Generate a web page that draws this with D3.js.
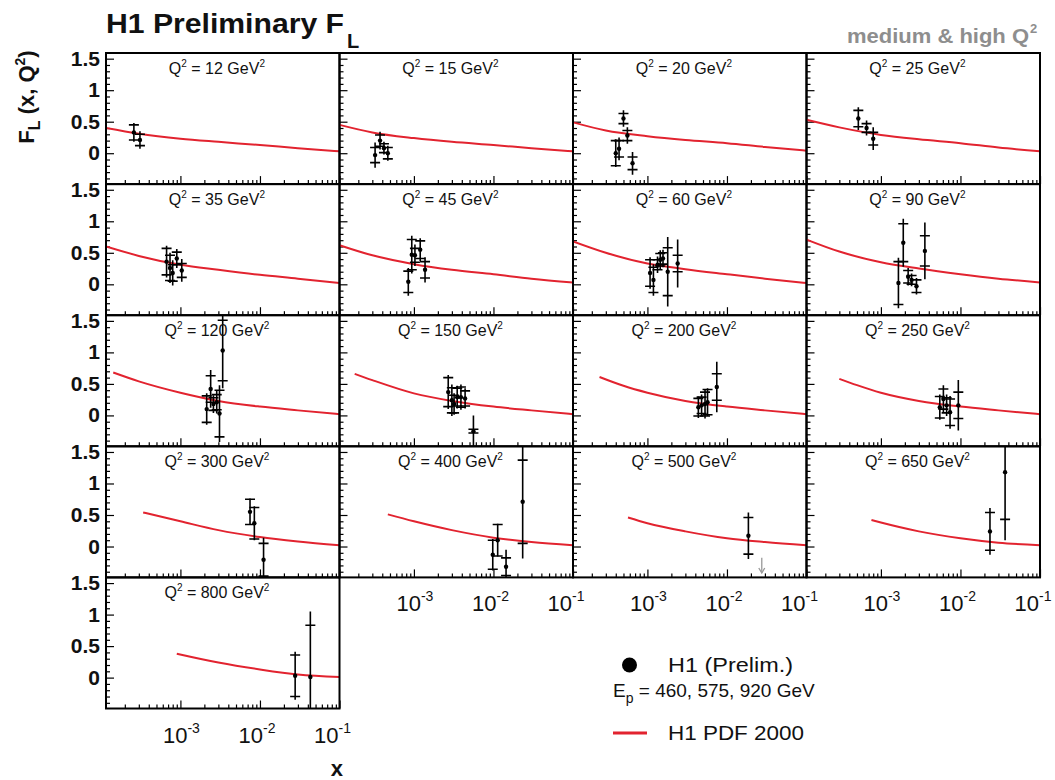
<!DOCTYPE html>
<html><head><meta charset="utf-8">
<script src="https://cdn.jsdelivr.net/npm/d3@7"></script>
<style>
body{margin:0;background:#fff}
svg{display:block}
text{font-family:"Liberation Sans",Arial,Helvetica,sans-serif}
</style>
</head><body>
<svg id="c" width="1055" height="780"></svg>
<script>
// ---------------- DATA ----------------
const q2Labels = ["12","15","20","25","35","45","60","90","120","150","200","250","300","400","500","650","800"];

// H1 preliminary F_L points per panel: x, value, stat error, total error
const pointX = [
  [2.6e-4, 3.1e-4],
  [3.25e-4, 3.75e-4, 4.2e-4, 4.7e-4],
  [4.0e-4, 4.4e-4, 5.0e-4, 5.6e-4, 6.5e-4],
  [5.2e-4, 6.6e-4, 8.0e-4],
  [6.7e-4, 7.4e-4, 8.0e-4, 9.0e-4, 1.04e-3],
  [8.5e-4, 9.4e-4, 1.03e-3, 1.2e-3, 1.38e-3],
  [1.08e-3, 1.19e-3, 1.34e-3, 1.45e-3, 1.57e-3, 1.8e-3, 2.4e-3],
  [1.66e-3, 1.91e-3, 2.2e-3, 2.43e-3, 2.8e-3, 3.57e-3],
  [2.14e-3, 2.4e-3, 2.6e-3, 2.86e-3, 3.1e-3, 3.4e-3],
  [2.7e-3, 3.0e-3, 3.2e-3, 3.5e-3, 3.9e-3, 4.4e-3, 5.6e-3],
  [4.37e-3, 4.8e-3, 5.3e-3, 5.7e-3, 7.45e-3],
  [5.5e-3, 6.1e-3, 6.7e-3, 7.4e-3, 9.4e-3],
  [7.5e-3, 8.5e-3, 1.11e-2],
  [9.8e-3, 1.13e-2, 1.44e-2, 2.33e-2],
  [1.86e-2],
  [2.35e-2, 3.64e-2],
  [2.77e-2, 4.3e-2]
];
const pointFL = [
  [0.33, 0.21],
  [-0.03, 0.20, 0.08, 0.00],
  [0.00, 0.07, 0.55, 0.28, -0.16],
  [0.55, 0.40, 0.23],
  [0.36, 0.26, 0.18, 0.41, 0.22],
  [0.04, 0.47, 0.46, 0.55, 0.23],
  [0.18, 0.07, 0.31, 0.39, 0.41, 0.20, 0.33],
  [0.02, 0.66, 0.12, 0.07, -0.03, 0.53],
  [0.10, 0.42, 0.18, 0.21, 0.03, 1.03],
  [0.37, 0.24, 0.18, 0.29, 0.29, 0.27, -0.25],
  [0.13, 0.16, 0.18, 0.21, 0.45],
  [0.13, 0.26, 0.16, 0.05, 0.16],
  [0.55, 0.37, -0.21],
  [-0.13, 0.10, -0.32, 0.71],
  [0.17],
  [0.24, 1.18],
  [0.03, 0.01]
];
const pointStat = [
  [0.12, 0.09],
  [0.12, 0.09, 0.07, 0.09],
  [0.20, 0.13, 0.08, 0.08, 0.10],
  [0.13, 0.07, 0.10],
  [0.21, 0.20, 0.13, 0.10, 0.11],
  [0.17, 0.24, 0.11, 0.14, 0.13],
  [0.21, 0.20, 0.08, 0.10, 0.09, 0.38, 0.13],
  [0.34, 0.30, 0.10, 0.07, 0.10, 0.24],
  [0.21, 0.21, 0.10, 0.12, 0.37, 0.48],
  [0.23, 0.20, 0.14, 0.14, 0.16, 0.12, 0.03],
  [0.14, 0.13, 0.19, 0.20, 0.21],
  [0.17, 0.16, 0.12, 0.21, 0.21],
  [0.20, 0.25, 0.26],
  [0.23, 0.25, 0.14, 0.66],
  [0.29],
  [0.30, 0.75],
  [0.33, 0.82]
];
const pointTot = [
  [0.15, 0.14],
  [0.20, 0.14, 0.10, 0.12],
  [0.22, 0.18, 0.13, 0.13, 0.18],
  [0.18, 0.12, 0.18],
  [0.25, 0.24, 0.20, 0.15, 0.18],
  [0.22, 0.30, 0.17, 0.18, 0.20],
  [0.25, 0.25, 0.13, 0.15, 0.14, 0.55, 0.38],
  [0.40, 0.38, 0.14, 0.10, 0.13, 0.45],
  [0.25, 0.30, 0.14, 0.18, 0.45, 0.60],
  [0.27, 0.25, 0.17, 0.18, 0.20, 0.16, 0.25],
  [0.17, 0.17, 0.23, 0.22, 0.40],
  [0.20, 0.22, 0.17, 0.26, 0.40],
  [0.21, 0.27, 0.35],
  [0.25, 0.26, 0.27, 0.90],
  [0.37],
  [0.37, 1.08],
  [0.38, 1.04]
];

// H1 PDF 2000 prediction per panel
const curveX = [
  [1.16e-4,3e-4,1e-3,3e-3,1e-2,3e-2,0.1],
  [1.16e-4,3e-4,1e-3,3e-3,1e-2,3e-2,0.1],
  [1.16e-4,3e-4,1e-3,3e-3,1e-2,3e-2,0.1],
  [1.16e-4,3e-4,1e-3,3e-3,1e-2,3e-2,0.1],
  [1.16e-4,3e-4,1e-3,3e-3,1e-2,3e-2,0.1],
  [1.16e-4,3e-4,1e-3,3e-3,1e-2,3e-2,0.1],
  [1.16e-4,3e-4,1e-3,3e-3,1e-2,3e-2,0.1],
  [1.16e-4,3e-4,1e-3,3e-3,1e-2,3e-2,0.1],
  [1.43e-4,3e-4,1e-3,3e-3,1e-2,3e-2,0.1],
  [1.8e-4,3e-4,1e-3,3e-3,1e-2,3e-2,0.1],
  [2.5e-4,5e-4,1e-3,3e-3,1e-2,3e-2,0.1],
  [3e-4,5e-4,1e-3,3e-3,1e-2,3e-2,0.1],
  [3.4e-4,1e-3,3e-3,1e-2,3e-2,0.1],
  [4.7e-4,1e-3,3e-3,1e-2,3e-2,0.1],
  [5.7e-4,1e-3,3e-3,1e-2,3e-2,0.1],
  [7.6e-4,1e-3,3e-3,1e-2,3e-2,0.1],
  [9e-4,3e-3,1e-2,3e-2,0.1]
];
const curveFL = [
  [0.40,0.31,0.23,0.18,0.13,0.08,0.03],
  [0.45,0.33,0.24,0.18,0.13,0.08,0.03],
  [0.49,0.36,0.27,0.21,0.16,0.10,0.04],
  [0.53,0.41,0.29,0.22,0.16,0.09,0.03],
  [0.60,0.45,0.31,0.23,0.15,0.09,0.02],
  [0.62,0.46,0.32,0.23,0.16,0.09,0.03],
  [0.68,0.50,0.33,0.24,0.16,0.09,0.02],
  [0.71,0.52,0.35,0.25,0.16,0.09,0.03],
  [0.68,0.54,0.36,0.23,0.14,0.08,0.02],
  [0.66,0.56,0.35,0.23,0.14,0.08,0.02],
  [0.61,0.47,0.36,0.23,0.14,0.08,0.02],
  [0.58,0.48,0.36,0.23,0.14,0.08,0.02],
  [0.54,0.40,0.26,0.15,0.08,0.02],
  [0.51,0.40,0.26,0.14,0.07,0.02],
  [0.46,0.37,0.24,0.13,0.07,0.02],
  [0.42,0.38,0.24,0.13,0.06,0.02],
  [0.38,0.24,0.13,0.05,0.01]
];

// off-scale marker (grey arrow) in the 500 GeV^2 panel
const arrowPanel = [14];
const arrowX = [2.74e-2];
const arrowFrom = [-0.18];
const arrowTo = [-0.42];

const yTickValues = [0, 0.5, 1, 1.5];
const yTickLabels = ["0", "0.5", "1", "1.5"];
const xTickValues = [1e-3, 1e-2, 1e-1];
const xTickExponents = ["-3", "-2", "-1"];

// ---------------- LAYOUT ----------------
const svg = d3.select("#c");
const left0 = 106, PW = 233.5, top0 = 53, PH = 131.1;
const x = d3.scaleLog().domain([1.16e-4, 0.1]).range([0, PW]);
const y = d3.scaleLinear().domain([-0.49, 1.59]).range([PH, 0]);
const xLabelShift = [1, -3, -7];

const minorX = [];
[-4, -3, -2].forEach(d => { for (let k = 2; k <= 9; k++) { const v = k * Math.pow(10, d); if (v > 1.16e-4 && v < 0.1) minorX.push(v); } });
const minorY = d3.range(-4, 16).map(v => v / 10).filter(v => !yTickValues.some(t => Math.abs(t - v) < 1e-9));

const line = d3.line().x(d => x(d[0])).y(d => y(d[1])).curve(d3.curveMonotoneX);
const defs = svg.append("defs");

q2Labels.forEach((lab, i) => {
  const row = Math.floor(i / 4), col = i % 4;
  const px0 = left0 + col * PW, py0 = top0 + row * PH;
  const g = svg.append("g").attr("transform", `translate(${px0},${py0})`);
  defs.append("clipPath").attr("id", "clip" + i).append("rect").attr("width", PW).attr("height", PH);

  // ticks (inside)
  const axB1 = g.append("g").attr("transform", `translate(0,${PH})`)
    .call(d3.axisBottom(x).tickValues(minorX).tickSize(-4).tickFormat(""));
  const axB2 = g.append("g").attr("transform", `translate(0,${PH})`)
    .call(d3.axisBottom(x).tickValues(xTickValues).tickSize(-8).tickFormat(""));
  const axL1 = g.append("g").call(d3.axisLeft(y).tickValues(minorY).tickSize(-4).tickFormat(""));
  const axL2 = g.append("g").call(d3.axisLeft(y).tickValues(yTickValues).tickSize(-8).tickFormat(""));
  [axB1, axB2, axL1, axL2].forEach(a => { a.select(".domain").remove(); a.selectAll("line").attr("stroke", "#000").attr("stroke-width", 1.2); });

  const plot = g.append("g").attr("clip-path", `url(#clip${i})`);

  // curve
  const cdata = curveX[i].map((v, k) => [v, curveFL[i][k]]);
  plot.append("path").datum(cdata).attr("d", line)
    .attr("fill", "none").attr("stroke", "#e2232f").attr("stroke-width", 2);

  // data points
  const pts = pointX[i].map((v, k) => ({ x: v, v: pointFL[i][k], s: pointStat[i][k], t: pointTot[i][k] }));
  const pg = plot.selectAll("g.pt").data(pts).join("g").attr("class", "pt");
  pg.append("line").attr("x1", d => x(d.x)).attr("x2", d => x(d.x))
    .attr("y1", d => y(d.v + d.t)).attr("y2", d => y(d.v - d.t))
    .attr("stroke", "#000").attr("stroke-width", 1.6);
  [1, -1].forEach(sg => {
    pg.append("line").attr("x1", d => x(d.x) - 5).attr("x2", d => x(d.x) + 5)
      .attr("y1", d => y(d.v + sg * d.s)).attr("y2", d => y(d.v + sg * d.s))
      .attr("stroke", "#000").attr("stroke-width", 1.6);
  });
  pg.append("circle").attr("cx", d => x(d.x)).attr("cy", d => y(d.v)).attr("r", 2.2).attr("fill", "#000");

  // arrows
  arrowPanel.forEach((p, k) => {
    if (p !== i) return;
    const ax = x(arrowX[k]), ay1 = y(arrowFrom[k]), ay2 = y(arrowTo[k]);
    plot.append("line").attr("x1", ax).attr("x2", ax).attr("y1", ay1).attr("y2", ay2)
      .attr("stroke", "#999").attr("stroke-width", 1.3);
    plot.append("path").attr("d", `M${ax - 3},${ay2 - 5}L${ax},${ay2}L${ax + 3},${ay2 - 5}`)
      .attr("fill", "none").attr("stroke", "#999").attr("stroke-width", 1.3);
  });

  // frame
  g.append("rect").attr("width", PW).attr("height", PH).attr("fill", "none")
    .attr("stroke", "#000").attr("stroke-width", 2);

  // Q2 label
  const t = g.append("text").attr("x", PW * 0.475).attr("y", 21).attr("text-anchor", "middle")
    .attr("font-size", 16).attr("fill", "#111");
  t.append("tspan").text("Q");
  t.append("tspan").attr("font-size", 10).attr("dy", -7).text("2");
  t.append("tspan").attr("dy", 7).text(` = ${lab} GeV`);
  t.append("tspan").attr("font-size", 10).attr("dy", -7).text("2");

  // y tick labels for first column
  if (col === 0) {
    yTickValues.forEach((v, k) => {
      svg.append("text").attr("x", left0 - 6).attr("y", py0 + y(v) + 7)
        .attr("text-anchor", "end").attr("font-size", 21).attr("font-weight", "bold")
        .attr("fill", "#111").text(yTickLabels[k]);
    });
  }
  // x tick labels where no panel below
  if (i + 4 >= q2Labels.length) {
    xTickValues.forEach((v, k) => {
      const tx = svg.append("text").attr("x", px0 + x(v) + xLabelShift[k]).attr("y", py0 + PH + 34)
        .attr("text-anchor", "middle").attr("font-size", 22).attr("fill", "#111");
      tx.append("tspan").text("10");
      tx.append("tspan").attr("font-size", 14).attr("dy", -10).text(xTickExponents[k]);
    });
  }
});

// ---------------- TITLES ----------------
svg.append("text").attr("x", 106).attr("y", 33).attr("font-size", 27).attr("font-weight", "bold")
  .attr("fill", "#111").attr("textLength", 238).attr("lengthAdjust", "spacingAndGlyphs").text("H1 Preliminary F");
svg.append("text").attr("x", 347).attr("y", 48).attr("font-size", 20).attr("font-weight", "bold")
  .attr("fill", "#111").text("L");

svg.append("text").attr("x", 847).attr("y", 43).attr("font-size", 20).attr("font-weight", "bold")
  .attr("fill", "#8e8e8e").attr("textLength", 182).attr("lengthAdjust", "spacingAndGlyphs").text("medium & high Q");
svg.append("text").attr("x", 1030).attr("y", 33).attr("font-size", 13).attr("font-weight", "bold")
  .attr("fill", "#8e8e8e").text("2");

// y axis title
const yt = svg.append("text").attr("transform", "translate(34,97) rotate(-90)").attr("text-anchor", "middle")
  .attr("font-size", 22).attr("font-weight", "bold").attr("fill", "#111");
yt.append("tspan").text("F");
yt.append("tspan").attr("font-size", 16).attr("dy", 6).text("L");
yt.append("tspan").attr("dy", -6).text(" (x, Q");
yt.append("tspan").attr("font-size", 14).attr("dy", -9).text("2");
yt.append("tspan").attr("dy", 9).text(")");

// x axis title
svg.append("text").attr("x", 343).attr("y", 776).attr("text-anchor", "end")
  .attr("font-size", 22).attr("font-weight", "bold").attr("fill", "#111").text("x");

// ---------------- LEGEND ----------------
svg.append("circle").attr("cx", 629.5).attr("cy", 665).attr("r", 7.5).attr("fill", "#000");
svg.append("text").attr("x", 668).attr("y", 672).attr("font-size", 21).attr("fill", "#111")
  .attr("textLength", 125).attr("lengthAdjust", "spacingAndGlyphs").text("H1 (Prelim.)");
const ep = svg.append("text").attr("x", 613).attr("y", 697).attr("font-size", 19).attr("fill", "#111");
ep.append("tspan").text("E");
ep.append("tspan").attr("font-size", 14).attr("dy", 6).text("p");
ep.append("tspan").attr("dy", -6).text(" = 460, 575, 920 GeV");
svg.append("line").attr("x1", 613).attr("x2", 647).attr("y1", 733).attr("y2", 733)
  .attr("stroke", "#e2232f").attr("stroke-width", 3);
svg.append("text").attr("x", 668).attr("y", 740).attr("font-size", 21).attr("fill", "#111")
  .attr("textLength", 136).attr("lengthAdjust", "spacingAndGlyphs").text("H1 PDF 2000");
</script>
</body></html>
